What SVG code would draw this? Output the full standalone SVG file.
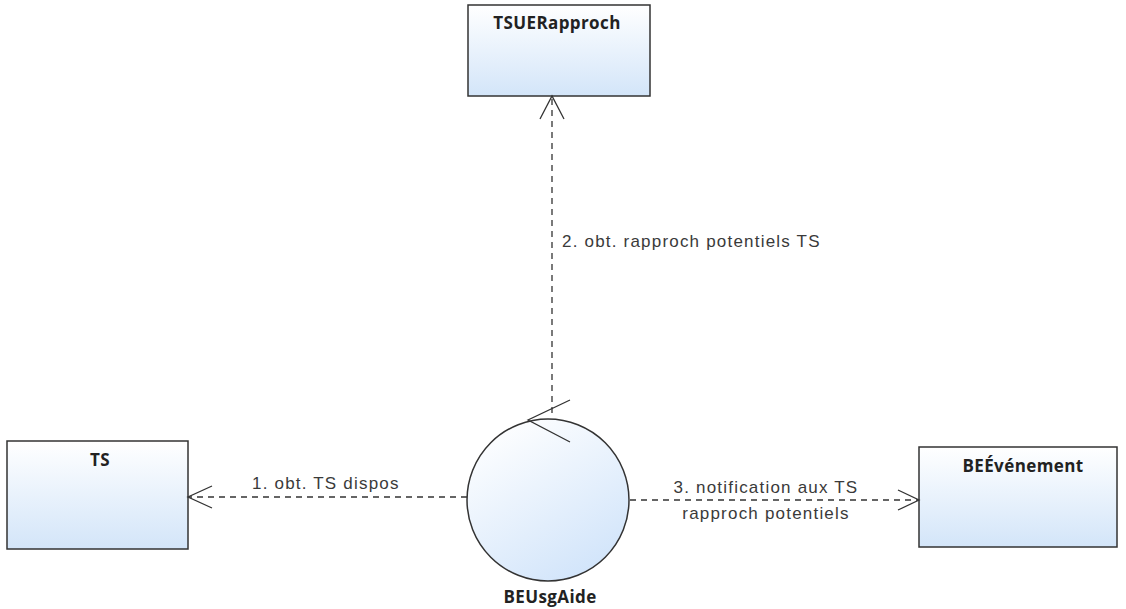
<svg xmlns="http://www.w3.org/2000/svg" width="1126" height="609" viewBox="0 0 1126 609">
<style>
.box{stroke:#333;stroke-width:1.5;fill:url(#g)}
.name{font-family:"Open Sans","DejaVu Sans",sans-serif;font-weight:bold;font-size:17px;letter-spacing:0.4px;fill:#222;text-anchor:middle}
.lbl{font-family:"Liberation Sans",Arial,sans-serif;font-size:17px;letter-spacing:1.2px;fill:#3a3a3a}
.dash{stroke:#333;stroke-width:1.3;stroke-dasharray:6,5;fill:none}
.head{stroke:#333;stroke-width:1.3;fill:none}
</style>
<defs>
<linearGradient id="g" x1="0" y1="0" x2="0" y2="1">
<stop offset="0" stop-color="#ffffff"/>
<stop offset="1" stop-color="#d3e5f9"/>
</linearGradient>
<linearGradient id="gc" x1="0.2" y1="0" x2="0.8" y2="1">
<stop offset="0" stop-color="#ffffff"/>
<stop offset="1" stop-color="#cfe3fa"/>
</linearGradient>
</defs>
<g id="TSUERapproch">
<rect class="box" x="468" y="5" width="182" height="91"/>
<text class="name" x="557" y="29">TSUERapproch</text>
</g>
<g id="TS">
<rect class="box" x="7" y="441" width="181" height="108"/>
<text class="name" x="100" y="466">TS</text>
</g>
<g id="BEEvenement">
<rect class="box" x="919" y="447" width="198" height="100"/>
<text class="name" x="1023" y="472">BEÉvénement</text>
</g>
<g id="BEUsgAide">
<circle cx="548" cy="500" r="81" fill="url(#gc)" stroke="#333" stroke-width="1.5"/>
<path class="head" d="M570,400 L528,420 L570,442"/>
<text class="name" x="550" y="603">BEUsgAide</text>
</g>
<g id="connectors">
<line class="dash" x1="552" y1="413" x2="552" y2="97"/>
<path class="head" d="M540,119 L552,96 L564,119"/>
<text class="lbl" x="562" y="247">2. obt. rapproch potentiels TS</text>
<line class="dash" x1="467" y1="497" x2="189" y2="497"/>
<path class="head" d="M212,486 L188,497 L212,508"/>
<text class="lbl" x="252" y="489">1. obt. TS dispos</text>
<line class="dash" x1="630" y1="500" x2="918" y2="500"/>
<path class="head" d="M898,490 L919,500 L898,510"/>
<text class="lbl" x="766" y="493" text-anchor="middle">3. notification aux TS</text>
<text class="lbl" x="766" y="519" text-anchor="middle">rapproch potentiels</text>
</g>
</svg>
